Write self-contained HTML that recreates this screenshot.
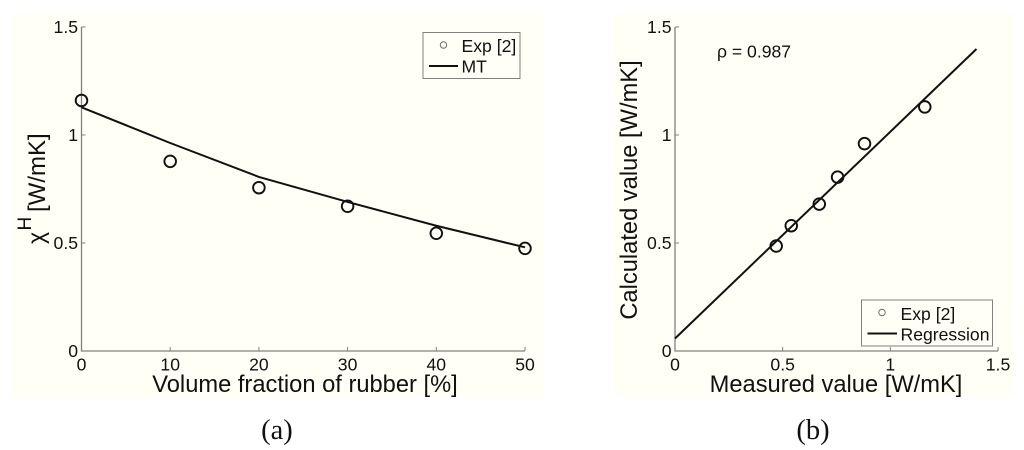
<!DOCTYPE html>
<html>
<head>
<meta charset="utf-8">
<style>
html,body{margin:0;padding:0;background:#fff;width:1024px;height:450px;overflow:hidden}
svg{display:block;font-family:"Liberation Sans",sans-serif}
text{fill:#111}
</style>
</head>
<body>
<svg id="figure" width="1024" height="450" viewBox="0 0 1024 450" xmlns="http://www.w3.org/2000/svg">
  <g id="chart-a" style="filter:blur(.35px)">
    <rect x="11" y="14" width="532" height="383" fill="#fffff5"/>
    <g id="a-axes"></g>
    <g id="a-series"></g>
    <text x="305" y="392" font-size="23.7" text-anchor="middle">Volume fraction of rubber [%]</text>
    <g transform="translate(45,246) rotate(-90)">
      <text x="2" y="-1" font-size="23">χ</text>
      <text x="15.5" y="-14" font-size="19">H</text>
      <text x="34" y="0" font-size="24">[W/mK]</text>
    </g>
    <g>
      <rect x="423" y="32.5" width="97" height="46" fill="#fffff5" stroke="#808080" stroke-width="1"/>
      <circle cx="443.5" cy="45" r="3.2" fill="none" stroke="#707070" stroke-width="1"/>
      <text x="461.5" y="52" font-size="17.6">Exp [2]</text>
      <line x1="429" x2="458" y1="66" y2="66" stroke="#111" stroke-width="2"/>
      <text x="461.5" y="72.5" font-size="17.6">MT</text>
    </g>
  </g>
  <g id="chart-b" style="filter:blur(.35px)">
    <rect x="613" y="14" width="401" height="383" fill="#fffff5"/>
    <g id="b-axes"></g>
    <g id="b-series"></g>
    <text x="836" y="392" font-size="23.7" text-anchor="middle">Measured value [W/mK]</text>
    <text transform="translate(637,190) rotate(-90)" font-size="23.7" text-anchor="middle">Calculated value [W/mK]</text>
    <text x="717" y="57.5" font-size="17.6">ρ = 0.987</text>
    <g>
      <rect x="861.5" y="300" width="131" height="46" fill="#fffff5" stroke="#808080" stroke-width="1"/>
      <circle cx="882" cy="312.5" r="3.2" fill="none" stroke="#707070" stroke-width="1"/>
      <text x="900.5" y="320" font-size="17.6">Exp [2]</text>
      <line x1="867.5" x2="897" y1="333.5" y2="333.5" stroke="#111" stroke-width="2"/>
      <text x="900.5" y="340.5" font-size="17.6">Regression</text>
    </g>
  </g>
  <text x="277" y="439" font-size="28.5" text-anchor="middle" font-family="'Liberation Serif',serif">(a)</text>
  <text x="813" y="439" font-size="28.5" text-anchor="middle" font-family="'Liberation Serif',serif">(b)</text>
</svg>
<script>
var aRubberFraction = [0, 10, 20, 30, 40, 50];
var aExpValues = [1.16, 0.878, 0.756, 0.67, 0.545, 0.475];
var aMtValues = [1.128, 0.963, 0.806, 0.69, 0.58, 0.48];
var aXTicks = [0, 10, 20, 30, 40, 50];
var aYTicks = [0, 0.5, 1, 1.5];

var bMeasuredValues = [0.47, 0.54, 0.67, 0.755, 0.88, 1.16];
var bCalculatedValues = [0.486, 0.58, 0.68, 0.805, 0.96, 1.13];
var bRegressionX = [0, 1.4];
var bRegressionY = [0.058, 1.398];
var bXTicks = [0, 0.5, 1, 1.5];
var bYTicks = [0, 0.5, 1, 1.5];

var NS = 'http://www.w3.org/2000/svg';
function mk(parent, tag, props) {
  var el = document.createElementNS(NS, tag);
  for (var k in props) el.setAttribute(k, props[k]);
  parent.appendChild(el);
  return el;
}
function linear(d0, d1, r0, r1) {
  return function (v) { return r0 + (v - d0) / (d1 - d0) * (r1 - r0); };
}
function drawAxes(group, prefix, x, y, xTicks, yTicks) {
  var left = x(xTicks[0]), right = x(xTicks[xTicks.length - 1]);
  var bottom = y(yTicks[0]), top = y(yTicks[yTicks.length - 1]);
  var el = mk(group, 'path', { d: 'M' + left + ' ' + top + 'V' + bottom + 'H' + right, fill: 'none', stroke: '#808080', 'stroke-width': 1.3 });
  
  
  xTicks.forEach(function (t) {
    var tick = mk(group, 'line', { x1: x(t), x2: x(t), y1: bottom, y2: bottom - 4, stroke: '#808080', 'stroke-width': 1 });
    
    
    var label = mk(group, 'text', { x: x(t), y: bottom + 19.5, 'font-size': 17.6, 'text-anchor': 'middle' });
    label.textContent = String(t);
    
    
  });
  yTicks.forEach(function (t) {
    var tick = mk(group, 'line', { x1: left, x2: left + 4, y1: y(t), y2: y(t), stroke: '#808080', 'stroke-width': 1 });
    
    
    var label = mk(group, 'text', { x: left - 3.5, y: y(t) + 6, 'font-size': 17.6, 'text-anchor': 'end' });
    label.textContent = String(t);
    
    
  });
}
function drawLine(group, name, x, y, xs, ys) {
  var pts = xs.map(function (v, i) { return x(v) + ',' + y(ys[i]); }).join(' ');
  var line = mk(group, 'polyline', { points: pts, fill: 'none', stroke: '#111', 'stroke-width': 2 });
  
  
}
function drawPoints(group, name, x, y, xs, ys) {
  xs.forEach(function (v, i) {
    var c = mk(group, 'circle', { cx: x(v), cy: y(ys[i]), r: 5.8, fill: 'none', stroke: '#111', 'stroke-width': 1.9 });
    
    
  });
}

var aX = linear(0, 50, 81.5, 525);
var aY = linear(0, 1.5, 351, 27);
var aAxes = document.getElementById('a-axes');
var aSeries = document.getElementById('a-series');
drawAxes(aAxes, 'panel-a', aX, aY, aXTicks, aYTicks);
drawLine(aSeries, 'mt-line', aX, aY, aRubberFraction, aMtValues);
drawPoints(aSeries, 'exp-point-a', aX, aY, aRubberFraction, aExpValues);

var bX = linear(0, 1.5, 675, 998);
var bY = linear(0, 1.5, 351, 27);
var bAxes = document.getElementById('b-axes');
var bSeries = document.getElementById('b-series');
drawAxes(bAxes, 'panel-b', bX, bY, bXTicks, bYTicks);
drawLine(bSeries, 'regression-line', bX, bY, bRegressionX, bRegressionY);
drawPoints(bSeries, 'exp-point-b', bX, bY, bMeasuredValues, bCalculatedValues);
</script>
</body>
</html>
